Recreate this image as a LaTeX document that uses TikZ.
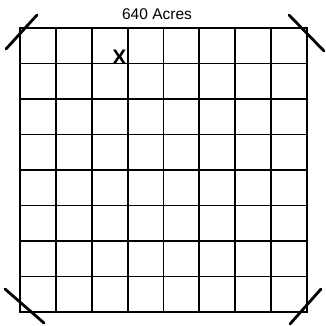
\documentclass[tikz,border=0pt]{standalone}
\usepackage{fontspec}
\setmainfont{Liberation Sans}
\begin{document}
\begin{tikzpicture}[x=1pt,y=-1pt,
  gridline/.style={line width=1.9pt,black},
  border/.style={line width=2.5pt,black},
  cornermark/.style={line width=2.8pt,black,line cap=round},
  label/.style={font=\fontsize{15.5}{18}\selectfont,inner sep=0pt,anchor=base},
  xmark/.style={font=\bfseries\fontsize{21}{24}\selectfont,inner sep=0pt}]
\useasboundingbox (0,0) rectangle (326,325);
\fill[white] (0,0) rectangle (326,325);
% grid
\foreach \i in {1,...,7} {
  \draw[gridline] ({20+\i*35.875},28) -- ({20+\i*35.875},312);
  \draw[gridline] (20,{28+\i*35.5}) -- (307,{28+\i*35.5});
}
\draw[border] (20,28) rectangle (307,312);
% corner marks
\draw[cornermark] (6,49) -- (37,15);
\draw[cornermark] (289,15) -- (324,51);
\draw[cornermark] (5,289) -- (44,323);
\draw[cornermark] (321,289) -- (290,324);
% labels
\node[label] (title) at (157,19) {640 Acres};
\node[xmark] (x) at (119.5,57.5) {X};
\end{tikzpicture}
\end{document}
